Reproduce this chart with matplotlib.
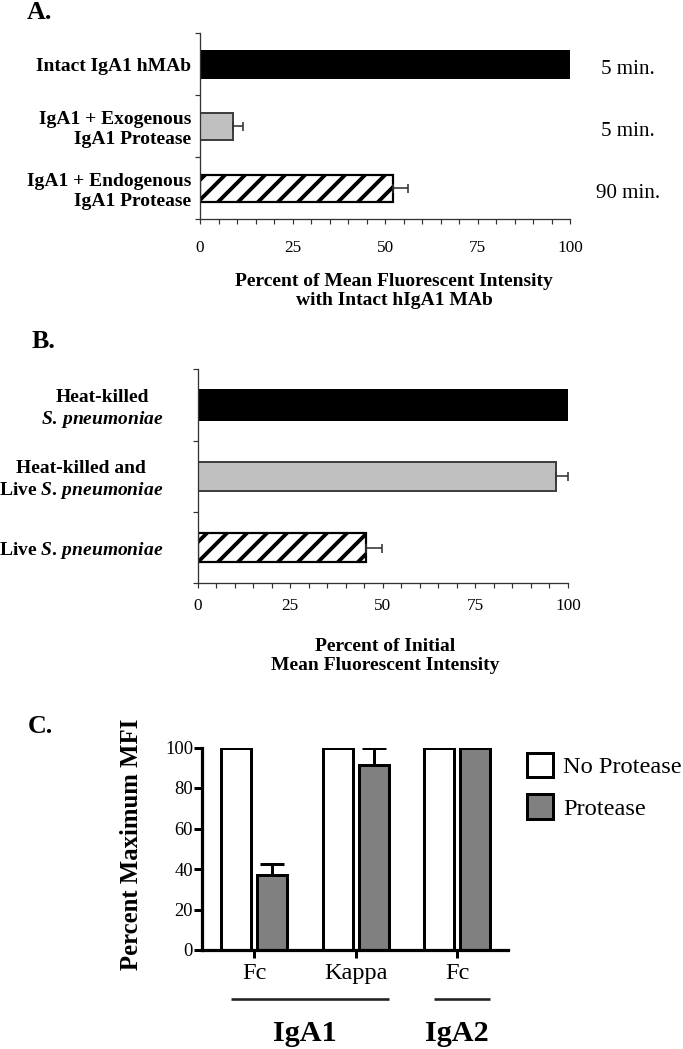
import numpy as np
import matplotlib
matplotlib.use("Agg")
import matplotlib.pyplot as plt
from matplotlib.patches import Patch

DPI = 120
W, H = 683, 1049

plt.rcParams['font.family'] = ['Liberation Serif', 'DejaVu Serif']
plt.rcParams['mathtext.fontset'] = 'custom'
plt.rcParams['mathtext.it'] = 'Liberation Serif:italic:bold'
plt.rcParams['mathtext.rm'] = 'Liberation Serif:bold'
plt.rcParams['hatch.linewidth'] = 2.3


def pt(p):
    # pixel size -> points at this dpi
    return p * 72 / DPI


def rect(l, t, r, b):
    return [l / W, 1 - b / H, (r - l) / W, (b - t) / H]


# ---- data ----
# panel A
labels_a = ["Intact IgA1 hMAb", "IgA1 + Exogenous\nIgA1 Protease",
            "IgA1 + Endogenous\nIgA1 Protease"]
times_a = ["5 min.", "5 min.", "90 min."]
values_a = [100, 9.0, 52.1]
err_a = [0, 2.6, 4.1]

# panel B
labels_b = ["Heat-killed\n$\\mathit{S.}\\,\\mathit{pneumoniae}$",
            "Heat-killed and\nLive $\\mathit{S.}\\,\\mathit{pneumoniae}$",
            "Live $\\mathit{S.}\\,\\mathit{pneumoniae}$"]
values_b = [100, 96.8, 45.4]
err_b = [0, 3.1, 4.5]

# panel C
targets_c = ["Fc", "Kappa", "Fc"]
groups_c = ["IgA1", "IgA1", "IgA2"]
no_protease = [100, 100, 100]
protease = [36.8, 91.3, 100]
err_protease = [5.5, 8.7, 0]

x_ticks_ab = [0, 25, 50, 75, 100]
y_ticks_c = [0, 20, 40, 60, 80, 100]

styles = [dict(color='black', edgecolor='black', linewidth=pt(2)),
          dict(color='#c0c0c0', edgecolor='#404040', linewidth=pt(2)),
          dict(color='white', edgecolor='black', hatch='//', linewidth=pt(2.2))]

fig = plt.figure(figsize=(W / DPI, H / DPI), dpi=DPI)


def hbar_panel(ax, labels, values, errs, pad_lab, tick_pad, barh):
    pos = np.arange(len(values)) + 0.5
    for p, v, st in zip(pos, values, styles):
        ax.barh(p, v, height=barh, **st)
    idx = [i for i, e in enumerate(errs) if e > 0]
    ax.errorbar(np.array(values)[idx], pos[idx],
                xerr=[np.zeros(len(idx)), np.array(errs)[idx]],
                fmt='none', ecolor='#333333', elinewidth=pt(1.6),
                capsize=pt(4.5), capthick=pt(1.6))
    ax.set_xlim(0, 100)
    ax.set_ylim(len(values), 0)
    ax.set_xticks(x_ticks_ab)
    ax.set_xticks(np.arange(0, 101, 5), minor=True)
    ax.set_xticklabels([str(t) for t in x_ticks_ab])
    ax.set_yticks(pos)
    ax.set_yticklabels(labels, fontweight='bold', fontsize=pt(19.5))
    ax.set_yticks(np.arange(len(values) + 1), minor=True)
    ax.tick_params(axis='y', which='major', length=0, pad=pt(pad_lab))
    ax.tick_params(axis='y', which='minor', length=pt(5), width=pt(1.2),
                   color='#333333')
    ax.tick_params(axis='x', which='both', length=pt(5), width=pt(1.2),
                   color='#333333', labelsize=pt(17.3), pad=pt(tick_pad))
    for s in ['top', 'right']:
        ax.spines[s].set_visible(False)
    for s in ['left', 'bottom']:
        ax.spines[s].set_linewidth(pt(1.3))
        ax.spines[s].set_color('#333333')
    return pos


# ---- panel A ----
ax_a = fig.add_axes(rect(200, 33.3, 570, 219.3))
pos_a = hbar_panel(ax_a, labels_a, values_a, err_a, 9, 16, 0.43)
for lab in ax_a.get_yticklabels():
    lab.set_multialignment('right')
for p, t in zip(pos_a, times_a):
    ax_a.annotate(t, (115.7, p), xytext=(0, pt(-5)), textcoords='offset points',
                  ha='center', va='center', fontsize=pt(21), annotation_clip=False)
fig.text(394 / W, 1 - 291 / H,
         "Percent of Mean Fluorescent Intensity\nwith Intact hIgA1 MAb",
         ha='center', va='center', fontweight='bold', fontsize=pt(19.5))
fig.text(39 / W, 1 - 12.5 / H, "A.", ha='center', va='center',
         fontweight='bold', fontsize=pt(26))

# ---- panel B ----
ax_b = fig.add_axes(rect(197.5, 369.3, 568, 583.3))
hbar_panel(ax_b, labels_b, values_b, err_b, 34, 9.5, 0.41)
for lab in ax_b.get_yticklabels():
    lab.set_multialignment('center')
fig.text(385 / W, 1 - 656 / H,
         "Percent of Initial\nMean Fluorescent Intensity",
         ha='center', va='center', fontweight='bold', fontsize=pt(19.5))
fig.text(44 / W, 1 - 342 / H, "B.", ha='center', va='center',
         fontweight='bold', fontsize=pt(26))

# ---- panel C ----
ax_c = fig.add_axes(rect(202, 747.5, 508, 950))
xc = np.arange(len(targets_c))
off, bw = 0.177, 0.296
ax_c.bar(xc - off, no_protease, width=bw, color='white', edgecolor='black',
         linewidth=pt(3), label='No Protease')
ax_c.bar(xc + off, protease, width=bw, color='#808080', edgecolor='black',
         linewidth=pt(3), label='Protease')
idx = [i for i, e in enumerate(err_protease) if e > 0]
ax_c.errorbar(xc[idx] + off, np.array(protease)[idx],
              yerr=[np.zeros(len(idx)), np.array(err_protease)[idx]],
              fmt='none', ecolor='black', elinewidth=pt(3),
              capsize=pt(12), capthick=pt(3))
ax_c.set_xlim(-0.512, 2.5)
ax_c.set_ylim(0, 100)
ax_c.set_yticks(y_ticks_c)
ax_c.set_xticks(xc)
ax_c.set_xticklabels(targets_c, fontsize=pt(24.4))
ax_c.tick_params(axis='y', length=pt(8), width=pt(3), labelsize=pt(18.5),
                 pad=pt(1))
ax_c.tick_params(axis='x', length=pt(8), width=pt(3), pad=pt(5))
for s in ['top', 'right']:
    ax_c.spines[s].set_visible(False)
for s in ['left', 'bottom']:
    ax_c.spines[s].set_linewidth(pt(3.2))

# group underlines and labels
for g in dict.fromkeys(groups_c):
    members = [i for i, gg in enumerate(groups_c) if gg == g]
    x0 = xc[members[0]] - off - bw / 2
    x1 = xc[members[-1]] + off + bw / 2
    ax_c.plot([x0 + 0.1, x1], [-24.3, -24.3], color='#222222', lw=pt(2.6),
              clip_on=False, solid_capstyle='butt')
    ax_c.text((x0 + x1) / 2, -41, g, ha='center', va='center',
              fontweight='bold', fontsize=pt(30.3), clip_on=False)

fig.text(131 / W, 1 - 844 / H, "Percent Maximum MFI", rotation=90,
         ha='center', va='center', fontweight='bold', fontsize=pt(24.8))
fig.text(40.5 / W, 1 - 726.5 / H, "C.", ha='center', va='center',
         fontweight='bold', fontsize=pt(26))

fs_leg = 24.4
handles = [Patch(facecolor='white', edgecolor='black', linewidth=pt(3)),
           Patch(facecolor='#808080', edgecolor='black', linewidth=pt(3))]
fig.legend(handles, ['No Protease', 'Protease'], loc='upper left',
           bbox_to_anchor=(527 / W, 1 - 753 / H), frameon=False,
           borderpad=0, borderaxespad=0, fontsize=pt(fs_leg),
           handlelength=26 / fs_leg, handleheight=28 / fs_leg,
           handletextpad=10 / fs_leg, labelspacing=16 / fs_leg)

fig.savefig("out.png", dpi=DPI)
